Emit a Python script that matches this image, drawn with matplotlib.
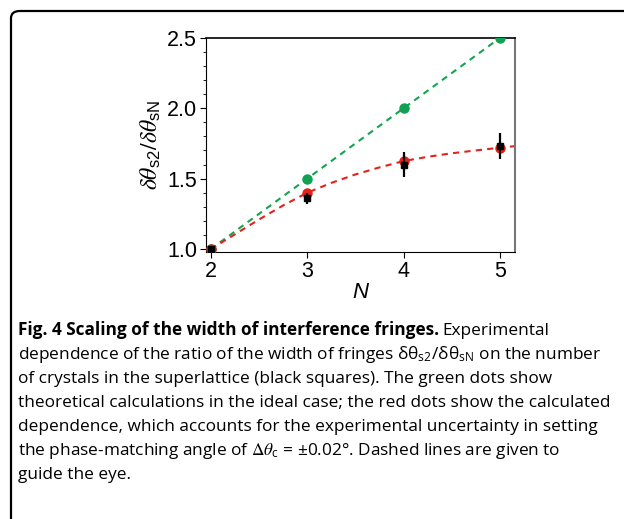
import matplotlib
matplotlib.use("Agg")
import matplotlib.pyplot as plt
from matplotlib.patches import FancyBboxPatch
from matplotlib.ticker import MultipleLocator, FormatStrFormatter

N = [2, 3, 4, 5]
ideal = [1.0, 1.5, 2.0, 2.5]
calc = [1.0, 1.40, 1.625, 1.72]
exp_val = [1.0, 1.36, 1.60, 1.73]
exp_lo = [0.0, 0.04, 0.09, 0.09]
exp_hi = [0.0, 0.04, 0.09, 0.09]

# dashed red guide
guide_x = [2.0, 2.25, 2.5, 2.75, 3.0, 3.25, 3.5, 3.75, 4.0, 4.25, 4.5, 4.75, 5.0, 5.15]
guide_y = [1.0, 1.105, 1.21, 1.31, 1.40, 1.47, 1.53, 1.58, 1.625, 1.655, 1.68, 1.70, 1.72, 1.73]

plt.rcParams['font.family'] = ['Liberation Sans', 'DejaVu Sans']
plt.rcParams['mathtext.fontset'] = 'stix'

fig = plt.figure(figsize=(6.24, 5.19), dpi=100)

# rounded frame running off the right and bottom edges
frame = FancyBboxPatch((11/624, -0.1), 1.0, 1 - 11/519 + 0.1,
                       boxstyle="round,pad=0,rounding_size=0.014",
                       transform=fig.transFigure, fc='none', ec='black', lw=1.6)
fig.patches.append(frame)

ax = fig.add_axes([205.5/624, 1 - 252.3/519, (514.5 - 205.5)/624, (252.3 - 37.5)/519])

ax.plot(N, ideal, '--', color='#16a34f', lw=1.5, dashes=(3, 2.5), zorder=2)
ax.plot(guide_x, guide_y, '--', color='#e2231a', lw=1.5, dashes=(3, 2.5), zorder=2)
ax.plot(N, ideal, 'o', color='#12a152', ms=6.5, zorder=3)
ax.plot(N, calc, 'o', color='#e2231a', ms=6.5, zorder=3)
ax.errorbar(N, exp_val, yerr=[exp_lo, exp_hi], fmt='s', color='black', ms=5,
            elinewidth=1.6, capsize=0, zorder=4)

ax.set_xlim(1.947, 5.145)
ax.set_ylim(0.978, 2.5)
ax.set_xticks(N)
ax.yaxis.set_major_locator(MultipleLocator(0.5))
ax.yaxis.set_minor_locator(MultipleLocator(0.1))
ax.yaxis.set_major_formatter(FormatStrFormatter('%.1f'))
ax.tick_params(axis='both', direction='out', labelsize=15.5, width=0.8, length=4, pad=2)
ax.tick_params(axis='y', which='minor', direction='out', length=2.5, width=0.6)
ax.spines['right'].set_color('#777777')
ax.spines['right'].set_linewidth(1.5)
ax.spines['top'].set_linewidth(1.2)

ax.set_xlabel('N', fontsize=16, style='italic', labelpad=0)
ax.set_ylabel(r'$\delta\theta_{\mathregular{s2}}/\delta\theta_{\mathregular{sN}}$', fontsize=17, labelpad=3)

# caption
cap_x = 18/624
fs = 12.4
fam = ['Open Sans', 'DejaVu Sans']
y0 = 1 - 335/519
dy = 24/519
bold = fig.text(cap_x, y0, 'Fig. 4 Scaling of the width of interference fringes.', fontsize=fs,
                fontweight='bold', family=fam, va='baseline')
lines = [
    r'dependence of the ratio of the width of fringes δθ$_{\mathregular{s2}}$/δθ$_{\mathregular{sN}}$ on the number',
    'of crystals in the superlattice (black squares). The green dots show',
    'theoretical calculations in the ideal case; the red dots show the calculated',
    'dependence, which accounts for the experimental uncertainty in setting',
    r'the phase-matching angle of $\Delta\theta_{\mathregular{c}}$ = ±0.02°. Dashed lines are given to',
    'guide the eye.',
]
fig.canvas.draw()
bb = bold.get_window_extent()
fig.text(bb.x1 / fig.bbox.width + 0.006, y0, 'Experimental', fontsize=fs, family=fam, va='baseline')
for i, ln in enumerate(lines):
    fig.text(cap_x, y0 - dy * (i + 1), ln, fontsize=fs, family=fam, va='baseline')

fig.savefig('out.png', dpi=100)
